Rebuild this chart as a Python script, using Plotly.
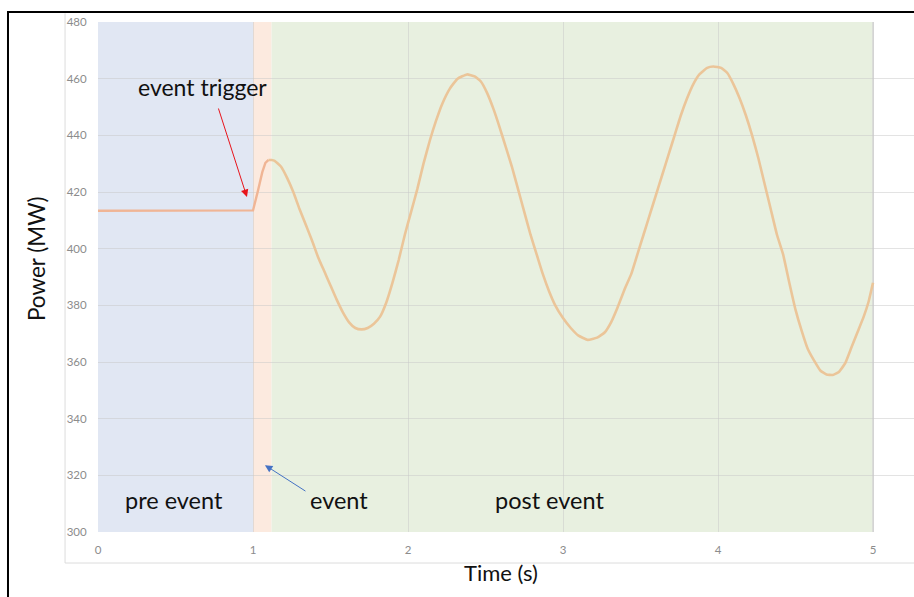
import plotly.graph_objects as go

# ---- data ----
time_s = [0.0, 0.5, 1.0, 1.03, 1.06, 1.08, 1.10, 1.12,
          1.14, 1.18, 1.22, 1.26, 1.30, 1.34, 1.38, 1.42, 1.46, 1.50, 1.54, 1.58, 1.62, 1.66, 1.70,
          1.74, 1.78, 1.82, 1.86, 1.90, 1.94, 1.98, 2.02, 2.06, 2.10, 2.14, 2.18, 2.22, 2.27, 2.32,
          2.38, 2.43, 2.47, 2.51, 2.55, 2.59, 2.63, 2.67, 2.71, 2.75, 2.79, 2.83, 2.87, 2.91, 2.95,
          3.00, 3.05, 3.10, 3.16, 3.22, 3.27, 3.31, 3.35, 3.40, 3.44, 3.48, 3.52, 3.56, 3.60, 3.64,
          3.68, 3.72, 3.76, 3.80, 3.84, 3.88, 3.93, 3.97, 4.02, 4.06, 4.10, 4.14, 4.18, 4.22, 4.26,
          4.30, 4.34, 4.38, 4.42, 4.46, 4.50, 4.54, 4.58, 4.62, 4.66, 4.70, 4.74, 4.78, 4.82, 4.86,
          4.90, 4.94, 4.97, 5.0]
power_mw = [413.4, 413.4, 413.5, 420.0, 427.0, 430.3, 431.3, 431.3,
            431.0, 429.0, 425.0, 420.0, 414.0, 408.5, 403.0, 397.0, 392.0, 387.0, 382.0, 377.5, 374.0, 372.0, 371.5,
            372.0, 373.5, 376.0, 381.0, 388.0, 396.0, 405.0, 413.0, 421.0, 430.0, 438.0, 445.0, 451.0, 456.5, 460.0,
            461.5, 460.8, 459.0, 455.0, 449.5, 443.0, 436.0, 429.0, 421.0, 413.0, 405.0, 398.0, 391.0, 385.0, 380.0,
            375.5, 372.0, 369.3, 367.8, 368.6, 370.5, 374.0, 379.0, 386.0, 391.0, 398.0, 405.0, 412.0, 419.0, 426.0,
            433.0, 440.0, 447.0, 453.0, 458.0, 461.5, 463.8, 464.3, 463.8, 462.0, 458.0, 453.0, 447.0, 440.0, 432.0,
            423.0, 414.0, 405.0, 398.0, 388.0, 378.5, 371.0, 364.5, 360.5, 357.0, 355.6, 355.4, 356.5, 359.5, 365.0,
            370.5, 376.0, 381.0, 388.0]

# phase boundaries (s)
phase_names = ["pre event", "event", "post event"]
phase_start = [0.0, 1.0, 1.12]
phase_end = [1.0, 1.12, 5.0]
phase_colors = ["#E1E7F3", "#FCEADF", "#E8F0E0"]

x_ticks = [0, 1, 2, 3, 4, 5]
y_ticks = [300, 320, 340, 360, 380, 400, 420, 440, 460, 480]

FONT = "Lato, Open Sans, sans-serif"
TXT = "#111111"

fig = go.Figure()

split = time_s.index(1.10)
fig.add_trace(go.Scatter(x=time_s[:split + 1], y=power_mw[:split + 1], mode="lines",
                         line=dict(color="#F0B595", width=2.4, shape="linear"),
                         hoverinfo="skip", showlegend=False))
fig.add_trace(go.Scatter(x=time_s[split:], y=power_mw[split:], mode="lines",
                         line=dict(color="#EBC599", width=2.6, shape="spline", smoothing=0.4),
                         showlegend=False))

shapes = []
for s, e, c in zip(phase_start, phase_end, phase_colors):
    shapes.append(dict(type="rect", xref="x", yref="y", x0=s, x1=e, y0=300, y1=480,
                       fillcolor=c, line=dict(width=0), layer="below"))
shapes.append(dict(type="line", xref="x", yref="y", x0=5, x1=5, y0=300, y1=480,
                   line=dict(color="#D6D6D6", width=1.5), layer="below"))
# inner light-gray chart box
shapes.append(dict(type="line", xref="paper", yref="paper", x0=-0.0404, x1=-0.0404, y0=1.017, y1=-0.0608,
                   line=dict(color="#DCDCDC", width=1)))
shapes.append(dict(type="line", xref="paper", yref="paper", x0=-0.0404, x1=1.01, y0=-0.0608, y1=-0.0608,
                   line=dict(color="#DCDCDC", width=1)))
# outer black frame
shapes.append(dict(type="line", xref="paper", yref="paper", x0=-0.1103, x1=-0.1103, y0=1.0196, y1=-0.14,
                   line=dict(color="black", width=2)))
shapes.append(dict(type="line", xref="paper", yref="paper", x0=-0.1115, x1=1.01, y0=1.0196, y1=1.0196,
                   line=dict(color="black", width=2)))

annotations = [
    dict(x=0.677, y=457, xref="x", yref="y", text="event trigger", showarrow=False,
         xanchor="center", yanchor="middle", font=dict(family=FONT, size=23, color=TXT)),
    dict(x=0.49, y=311.3, xref="x", yref="y", text="pre event", showarrow=False,
         xanchor="center", yanchor="middle", font=dict(family=FONT, size=23.5, color=TXT)),
    dict(x=1.555, y=311.3, xref="x", yref="y", text="event", showarrow=False,
         xanchor="center", yanchor="middle", font=dict(family=FONT, size=23.5, color=TXT)),
    dict(x=2.91, y=311.3, xref="x", yref="y", text="post event", showarrow=False,
         xanchor="center", yanchor="middle", font=dict(family=FONT, size=23.5, color=TXT)),
    dict(x=0.961, y=418.2, ax=0.774, ay=450, xref="x", yref="y", axref="x", ayref="y",
         text="", showarrow=True, arrowhead=2, arrowsize=1.5, arrowwidth=1, arrowcolor="#E8141B"),
    dict(x=1.077, y=323.6, ax=1.348, ay=314.1, xref="x", yref="y", axref="x", ayref="y",
         text="", showarrow=True, arrowhead=2, arrowsize=1.5, arrowwidth=1, arrowcolor="#4472C4"),
    dict(x=-0.076, y=0.537, xref="paper", yref="paper", text="Power (MW)", textangle=-90,
         xanchor="center", yanchor="middle",
         showarrow=False, font=dict(family=FONT, size=22.5, color=TXT)),
    dict(x=0.494, y=-0.080, xref="paper", yref="paper", text="Time (s)",
         xanchor="center", yanchor="middle",
         showarrow=False, font=dict(family=FONT, size=22, color=TXT)),
]

fig.update_layout(
    width=914, height=597,
    margin=dict(l=98, r=0, t=22, b=65),
    paper_bgcolor="white", plot_bgcolor="white",
    shapes=shapes, annotations=annotations,
    showlegend=False,
)
fig.update_xaxes(range=[0, 816 / 155], tickvals=x_ticks, ticktext=[str(v) for v in x_ticks],
                 showgrid=True, gridcolor="rgba(200,200,200,0.5)", gridwidth=1, zeroline=False,
                 showline=False, ticks="outside", ticklen=7, tickcolor="rgba(0,0,0,0)",
                 tickfont=dict(family=FONT, size=11.5, color="#8C8C8C"))
fig.update_yaxes(range=[300, 480], tickvals=y_ticks, showgrid=True,
                 gridcolor="rgba(200,200,200,0.5)", gridwidth=1, zeroline=False, showline=False,
                 ticks="outside", ticklen=8, tickcolor="rgba(0,0,0,0)",
                 tickfont=dict(family=FONT, size=11.5, color="#8C8C8C"))

fig.write_html("out.html")
